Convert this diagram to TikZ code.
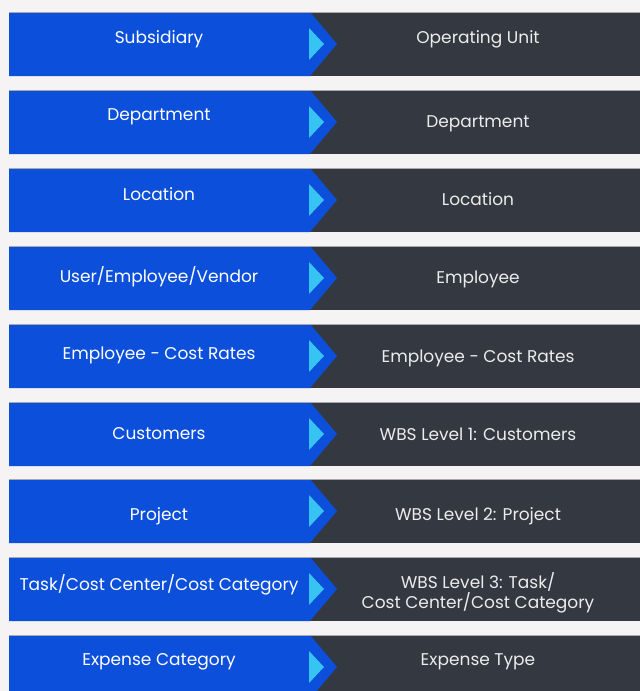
\documentclass[tikz,border=0pt]{standalone}
\usepackage{fontspec}
\setmainfont{Poppins}
\usepackage{tikz}

\definecolor{pagebg}{HTML}{F5F3F4}
\definecolor{rowblue}{HTML}{0B4FDB}
\definecolor{rowdark}{HTML}{343840}
\definecolor{tricyan}{HTML}{38C4F2}
\definecolor{edgegray}{HTML}{A9A9AB}
\definecolor{darktext}{HTML}{ECECEC}

\begin{document}
\begin{tikzpicture}[x=1pt,y=-1pt,
    lefttxt/.style={text=white,font=\fontsize{17}{20}\selectfont,
      text height=1.5ex,text depth=.3ex,inner sep=0pt,yshift=-2.5pt},
    righttxt/.style={text=darktext,font=\fontsize{17}{20}\selectfont,
      text height=1.5ex,text depth=.3ex,inner sep=0pt,align=center,
      yshift=-2.5pt}]
  \fill[pagebg] (0,0) rectangle (640,691);
  \useasboundingbox (0,0) rectangle (640,691);
  \clip (0,0) rectangle (640,691);
  % the nine rows
  \foreach \t in {12,90,168,246,324,402,479,557,635} {
    \fill[rowdark] (300,\t) rectangle (640,\t+64);
    \fill[rowblue] (9,\t) -- (310,\t) -- (337,\t+32) -- %
      (310,\t+64) -- (9,\t+64) -- cycle;
    \fill[tricyan] (309,\t+16) -- (324,\t+32) -- (309,\t+48) -- cycle;
    \draw[edgegray,line width=0.6pt] (9,\t) -- (640,\t);
  }
  \node[lefttxt] (L1) at (159,38) {Subsidiary};
  \node[righttxt] (R1) at (478,38) {Operating Unit};
  \node[lefttxt] (L2) at (159,115) {Department};
  \node[righttxt] (R2) at (478,122) {Department};
  \node[lefttxt] (L3) at (159,195) {Location};
  \node[righttxt] (R3) at (478,200) {Location};
  \node[lefttxt] (L4) at (159,277) {User/Employee/Vendor};
  \node[righttxt] (R4) at (478,278) {Employee};
  \node[lefttxt] (L5) at (159,354) {Employee - Cost Rates};
  \node[righttxt] (R5) at (478,357) {Employee - Cost Rates};
  \node[lefttxt] (L6) at (159,434) {Customers};
  \node[righttxt] (R6) at (478,435) {WBS Level 1: Customers};
  \node[lefttxt] (L7) at (159,515) {Project};
  \node[righttxt] (R7) at (478,515) {WBS Level 2: Project};
  \node[lefttxt] (L8) at (159,585) {Task/Cost Center/Cost Category};
  \node[righttxt,text height=,text depth=] (R8) at (478,590)
    {WBS Level 3: Task/\\Cost Center/Cost Category};
  \node[lefttxt] (L9) at (159,660) {Expense Category};
  \node[righttxt] (R9) at (478,660) {Expense Type};
\end{tikzpicture}
\end{document}
